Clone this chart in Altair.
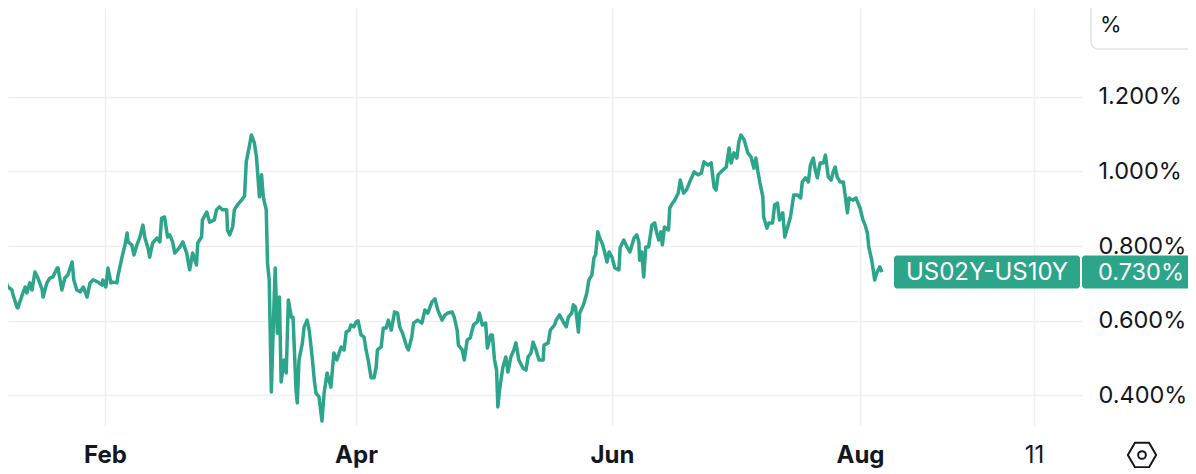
import altair as alt
import pandas as pd

# ---- data (day of year 2023, spread in %) ----
day_of_year = [
    6.4, 7.1, 7.6, 8.3, 9.2, 9.5, 10.4, 10.6, 11.6, 12.3,
    12.7, 13.4, 13.9, 14.6, 15.3, 16.3, 16.5, 17.4, 18.1, 18.8,
    19.8, 20.0, 20.9, 21.6, 22.3, 23.3, 23.7, 24.4, 25.2, 25.9,
    26.8, 27.5, 28.2, 29.4, 30.3, 30.5, 31.2, 31.7, 32.4, 32.9,
    33.8, 34.0, 35.0, 35.7, 36.2, 36.4, 37.3, 37.8, 38.5, 39.2,
    39.9, 40.4, 41.1, 41.5, 42.2, 43.2, 43.9, 44.3, 45.0, 45.7,
    46.2, 46.9, 47.4, 48.6, 49.3, 50.2, 50.9, 51.6, 52.5, 52.8,
    53.7, 53.9, 54.9, 55.6, 56.7, 57.2, 57.9, 58.6, 59.6, 59.8,
    60.3, 61.0, 61.4, 62.1, 63.1, 63.8, 64.2, 64.9, 65.4, 66.1,
    66.6, 67.3, 67.8, 68.2, 68.9, 69.2, 69.6, 70.1, 70.6, 71.0,
    71.5, 72.0, 72.4, 73.1, 73.6, 74.1, 74.8, 75.2, 75.9, 76.2,
    76.6, 77.4, 77.8, 78.5, 79.0, 79.7, 80.2, 80.6, 81.3, 82.0,
    82.5, 83.2, 84.1, 84.8, 85.5, 86.5, 87.2, 87.7, 88.4, 88.8,
    89.5, 90.0, 90.5, 91.2, 91.9, 92.4, 92.9, 93.6, 94.3, 94.8,
    95.1, 96.0, 96.5, 97.2, 97.7, 98.4, 99.2, 99.9, 100.4, 101.1,
    102.1, 102.5, 103.3, 103.7, 104.7, 105.7, 106.4, 107.1, 108.1, 108.8,
    109.5, 110.5, 111.2, 111.9, 112.9, 113.4, 114.1, 114.4, 115.3, 115.8,
    116.5, 117.2, 118.0, 118.9, 119.4, 120.1, 120.9, 121.3, 122.1, 122.5,
    123.0, 123.5, 123.8, 124.2, 125.0, 125.7, 126.2, 126.9, 127.6, 128.1,
    128.8, 129.8, 130.5, 131.0, 131.7, 132.2, 132.9, 133.6, 134.6, 134.8,
    135.8, 136.3, 137.3, 137.7, 138.5, 139.4, 140.1, 140.6, 141.4, 141.8,
    142.3, 143.0, 143.3, 144.2, 145.0, 145.5, 146.2, 146.7, 147.1, 147.6,
    148.1, 148.8, 149.3, 149.8, 150.3, 151.0, 151.7, 152.7, 153.0, 153.9,
    154.7, 155.4, 156.4, 157.1, 157.6, 157.8, 158.3, 158.8, 159.3, 160.0,
    160.8, 161.5, 162.0, 162.5, 163.0, 163.4, 163.9, 164.9, 165.2, 165.9,
    166.4, 167.3, 167.8, 168.6, 169.3, 170.0, 171.2, 172.2, 173.0, 173.6,
    174.6, 175.4, 176.1, 176.6, 177.1, 177.8, 179.1, 179.8, 180.3, 181.0,
    181.7, 182.2, 182.7, 183.5, 184.4, 185.2, 185.9, 186.4, 186.9, 187.4,
    188.1, 188.3, 189.1, 189.6, 190.5, 191.0, 191.7, 192.2, 193.0, 193.5,
    194.2, 194.9, 195.7, 196.6, 197.4, 197.8, 198.6, 199.3, 199.8, 200.5,
    201.0, 201.5, 202.2, 203.0, 203.5, 204.2, 204.9, 205.4, 205.9, 206.4,
    207.1, 207.9, 208.4, 208.9, 209.3, 210.3, 211.0, 212.0, 212.4, 212.7,
    213.0, 213.2, 213.6, 213.8, 214.0, 214.3, 214.7, 215.0,
]
spread_pct = [
    0.744, 0.744, 0.709, 0.690, 0.682, 0.668, 0.636, 0.634, 0.668, 0.690,
    0.674, 0.701, 0.682, 0.730, 0.714, 0.682, 0.663, 0.701, 0.714, 0.717,
    0.741, 0.741, 0.682, 0.714, 0.722, 0.757, 0.709, 0.682, 0.677, 0.690,
    0.663, 0.701, 0.709, 0.703, 0.695, 0.709, 0.690, 0.741, 0.701, 0.703,
    0.701, 0.717, 0.770, 0.803, 0.835, 0.811, 0.803, 0.776, 0.803, 0.824,
    0.856, 0.821, 0.795, 0.770, 0.808, 0.821, 0.811, 0.875, 0.878, 0.824,
    0.830, 0.811, 0.781, 0.797, 0.811, 0.781, 0.736, 0.781, 0.749, 0.808,
    0.824, 0.870, 0.891, 0.864, 0.870, 0.897, 0.905, 0.897, 0.897, 0.843,
    0.830, 0.851, 0.897, 0.910, 0.923, 0.934, 1.026, 1.066, 1.098, 1.077,
    1.039, 0.932, 0.991, 0.932, 0.897, 0.754, 0.709, 0.408, 0.601, 0.741,
    0.566, 0.663, 0.435, 0.494, 0.459, 0.655, 0.609, 0.609, 0.413, 0.379,
    0.494, 0.540, 0.583, 0.601, 0.574, 0.502, 0.440, 0.405, 0.395, 0.330,
    0.405, 0.459, 0.421, 0.513, 0.494, 0.529, 0.521, 0.569, 0.574, 0.588,
    0.583, 0.596, 0.599, 0.561, 0.556, 0.521, 0.494, 0.446, 0.446, 0.475,
    0.521, 0.529, 0.580, 0.580, 0.601, 0.574, 0.623, 0.620, 0.583, 0.566,
    0.529, 0.521, 0.556, 0.593, 0.601, 0.593, 0.628, 0.620, 0.650, 0.658,
    0.628, 0.601, 0.615, 0.620, 0.623, 0.609, 0.574, 0.534, 0.521, 0.494,
    0.548, 0.553, 0.588, 0.596, 0.620, 0.588, 0.593, 0.526, 0.561, 0.561,
    0.494, 0.467, 0.368, 0.413, 0.475, 0.502, 0.462, 0.502, 0.521, 0.540,
    0.494, 0.472, 0.467, 0.502, 0.513, 0.542, 0.521, 0.494, 0.494, 0.534,
    0.540, 0.574, 0.588, 0.601, 0.615, 0.596, 0.583, 0.609, 0.620, 0.642,
    0.636, 0.569, 0.620, 0.642, 0.674, 0.709, 0.722, 0.768, 0.776, 0.838,
    0.821, 0.803, 0.781, 0.757, 0.784, 0.770, 0.741, 0.736, 0.795, 0.816,
    0.797, 0.784, 0.821, 0.830, 0.811, 0.762, 0.784, 0.717, 0.797, 0.797,
    0.856, 0.862, 0.835, 0.816, 0.838, 0.803, 0.851, 0.843, 0.902, 0.915,
    0.923, 0.942, 0.977, 0.942, 0.950, 0.969, 0.999, 0.991, 0.996, 1.026,
    1.017, 1.023, 0.958, 0.950, 0.991, 0.999, 1.012, 1.063, 1.023, 1.050,
    1.036, 1.079, 1.098, 1.085, 1.050, 1.039, 1.009, 1.036, 0.999, 0.969,
    0.932, 0.878, 0.848, 0.862, 0.862, 0.910, 0.915, 0.870, 0.889, 0.824,
    0.851, 0.878, 0.937, 0.937, 0.929, 0.972, 0.983, 0.972, 1.017, 1.036,
    1.004, 0.983, 1.023, 1.023, 1.044, 0.985, 0.977, 0.999, 1.012, 0.985,
    0.972, 0.972, 0.932, 0.889, 0.929, 0.923, 0.929, 0.902, 0.870, 0.856,
    0.835, 0.797, 0.762, 0.736, 0.709, 0.728, 0.744, 0.730,
]
assert len(day_of_year) == len(spread_pct)

series_name = "US02Y-US10Y"
y_ticks = [0.4, 0.6, 0.8, 1.0, 1.2]
# x tick positions (day of year 2023) and their labels
x_tick_days = [31, 90, 151, 212, 222]
x_tick_labels = ["Feb", "Apr", "Jun", "Aug", "11"]

GREEN = "#2CA58A"
TEXT = "#131722"
GRID = "#EEEFF2"
FONT = "Inter"

df = pd.DataFrame({"doy": day_of_year, "value": spread_pct})
last_df = pd.DataFrame({
    "value": [spread_pct[-1]],
    "name": [series_name],
    "lbl": [f"{spread_pct[-1]:.3f}%"],
})

# piecewise time axis (TradingView compresses calendar differently per stretch)
x_scale = alt.Scale(
    domain=[8.29, 31, 90, 151, 212, 215, 222, 224.21],
    range=[0, 97, 348, 604, 852, 874, 1026, 1074],
    nice=False, zero=False,
)
y_scale = alt.Scale(domain=[0.3168, 1.4389], nice=False, zero=False)

label_expr = " : ".join(
    f"datum.value == {d} ? '{l}'" for d, l in zip(x_tick_days, x_tick_labels)
) + " : ''"
month_test = " || ".join(
    f"datum.value == {d}" for d, l in zip(x_tick_days, x_tick_labels) if not l.isdigit()
)

x_axis = alt.Axis(
    values=x_tick_days,
    labelExpr=label_expr,
    labelFontWeight={"condition": {"test": month_test, "value": "bold"}, "value": "normal"},
    grid=True, gridColor=GRID, gridWidth=1.5,
    domain=False, ticks=False, title=None,
    labelFont=FONT, labelFontSize=24, labelColor=TEXT, labelPadding=17,
    labelFlush=False, labelOverlap=False,
)
y_axis = alt.Axis(
    orient="right", values=y_ticks,
    labelExpr="format(datum.value, '.3f') + '%'",
    grid=True, gridColor=GRID, gridWidth=1.5,
    domain=False, ticks=False, title=None,
    labelFont=FONT, labelFontSize=23.5, labelColor=TEXT, labelPadding=16,
    labelAlign="left", labelBaseline="middle", labelFlush=False, labelOverlap=False,
)

line = alt.Chart(df).mark_line(color=GREEN, strokeWidth=3.5, clip=True, strokeJoin="round").encode(
    x=alt.X("doy:Q", scale=x_scale, axis=x_axis),
    y=alt.Y("value:Q", scale=y_scale, axis=y_axis),
)

name_box = alt.Chart(last_df).mark_rect(color=GREEN, height=33, cornerRadius=3).encode(
    x=alt.value(886), x2=alt.value(1072), y=alt.Y("value:Q"),
)
name_txt = alt.Chart(last_df).mark_text(
    color="white", font=FONT, fontSize=24, align="center", baseline="middle", dy=1
).encode(x=alt.value(979), y=alt.Y("value:Q"), text="name:N")
val_box = alt.Chart(last_df).mark_rect(color=GREEN, height=33, cornerRadius=3).encode(
    x=alt.value(1074), x2=alt.value(1200), y=alt.Y("value:Q"),
)
val_txt = alt.Chart(last_df).mark_text(
    color="white", font=FONT, fontSize=23.5, align="left", baseline="middle", dy=1
).encode(x=alt.value(1090), y=alt.Y("value:Q"), text="lbl:N")

one = pd.DataFrame({"k": ["%"]})
unit_box = alt.Chart(one).mark_rect(
    fill="white", stroke="#E0E3EB", strokeWidth=1.5, cornerRadius=7
).encode(x=alt.value(1083), x2=alt.value(1210), y=alt.value(-12), y2=alt.value(41))
unit_txt = alt.Chart(one).mark_text(
    color=TEXT, font=FONT, fontSize=22, align="left", baseline="middle"
).encode(x=alt.value(1092), y=alt.value(17), text="k:N")

hexagon = alt.Chart(one).mark_point(
    shape="M-1,0L-0.5,-0.866L0.5,-0.866L1,0L0.5,0.866L-0.5,0.866Z",
    size=800, filled=False, stroke=TEXT, strokeWidth=2, opacity=1,
).encode(x=alt.value(1134), y=alt.value(447))
hex_dot = alt.Chart(one).mark_point(
    shape="circle", size=60, filled=False, stroke=TEXT, strokeWidth=2, opacity=1,
).encode(x=alt.value(1134), y=alt.value(447))

chart = alt.layer(
    line, name_box, name_txt, val_box, val_txt, unit_box, unit_txt, hexagon, hex_dot
).properties(
    width=1074, height=418,
    autosize=alt.AutoSizeParams(type="none"),
    padding={"left": 0, "top": 0, "right": 106, "bottom": 42},
    background="white",
).configure_view(stroke=None)

chart.save("out.html", embed_options={"renderer": "svg", "actions": False})
